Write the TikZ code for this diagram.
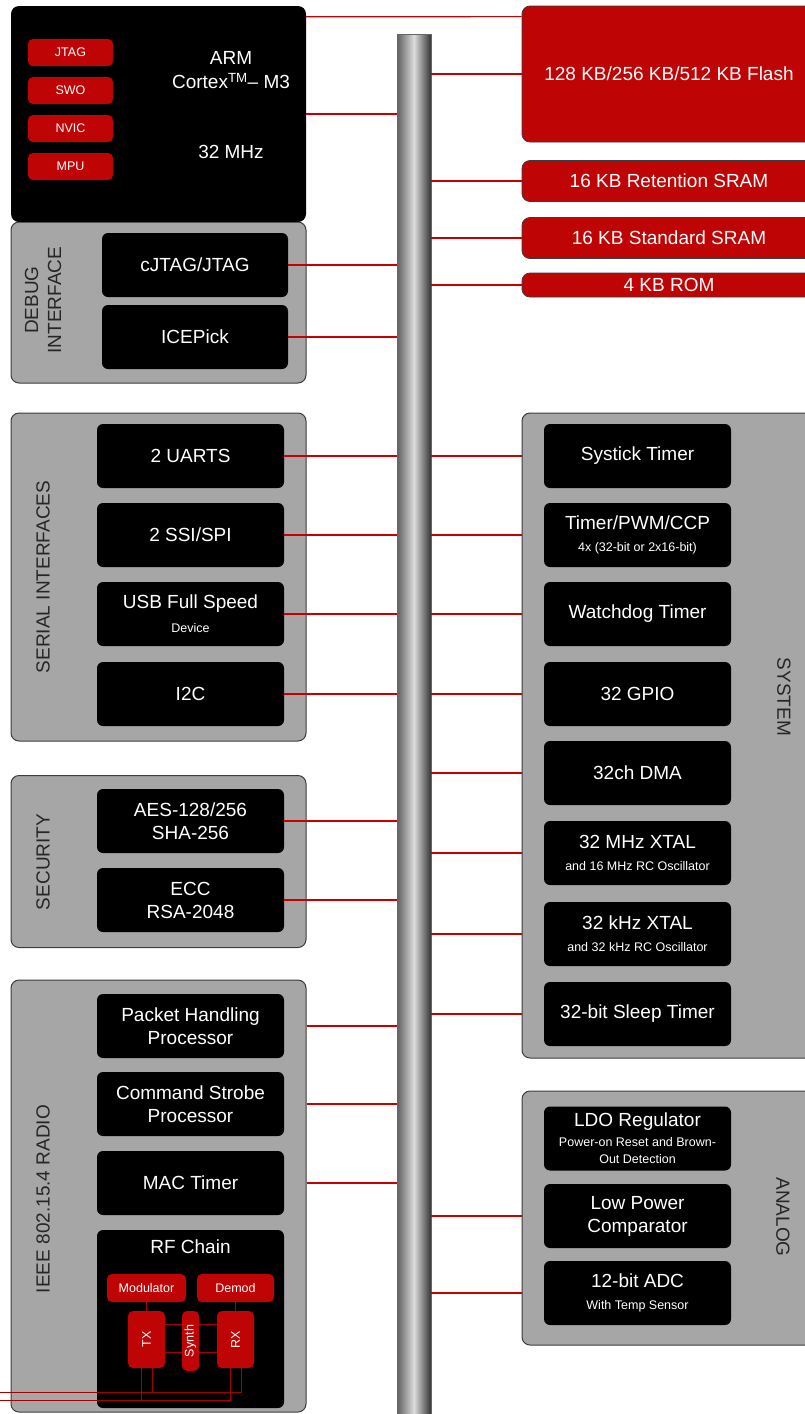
\documentclass[tikz,border=0pt]{standalone}
\usepackage{fontspec}
\setmainfont{Liberation Sans}
\usetikzlibrary{positioning,calc}
\definecolor{tired}{RGB}{190,4,4}
\definecolor{linkred}{RGB}{200,0,0}
\definecolor{grpgray}{RGB}{166,166,166}
\definecolor{edgegray}{RGB}{60,60,60}
\definecolor{busdark}{RGB}{95,95,95}
\definecolor{buslight}{RGB}{220,220,220}
\newcommand{\bigtxt}{\fontsize{19}{23}\selectfont}
\newcommand{\smtxt}{\fontsize{12.5}{15}\selectfont}
\tikzset{
  grp/.style={
    draw=edgegray,
    line width=1pt,
    fill=grpgray,
    rounded corners=8pt,
    inner sep=0pt
  },
  blk/.style={
    fill=black,
    rounded corners=6pt,
    text=white,
    align=center,
    font=\bigtxt,
    inner sep=0pt,
    minimum width=187pt,
    minimum height=64pt
  },
  redblk/.style={
    fill=tired,
    rounded corners=5pt,
    text=white,
    align=center,
    font=\smtxt,
    inner sep=0pt
  },
  mem/.style={
    fill=tired,
    draw=edgegray,
    line width=0.8pt,
    rounded corners=8pt,
    text=white,
    font=\bigtxt,
    inner sep=0pt,
    minimum width=294pt
  },
  link/.style={draw=linkred, line width=1.2pt},
  rflink/.style={draw=tired!85!black, line width=1pt},
  grplabel/.style={font=\bigtxt, align=center, text=black!85},
}
\begin{document}
\begin{tikzpicture}[x=1pt,y=-1pt]
  \useasboundingbox (0,0) rectangle (805,1414);
  \clip (0,0) rectangle (805,1414);
  % group frames
  \node[grp, minimum width=295pt, minimum height=161pt] (dbg) at (158.5,302.5) {};
  \node[grp, minimum width=295pt, minimum height=328pt] (ser) at (158.5,577) {};
  \node[grp, minimum width=295pt, minimum height=172pt] (sec) at (158.5,861.5) {};
  \node[grp, minimum width=295pt, minimum height=432pt] (rad) at (158.5,1196) {};
  \node[grp, minimum width=310pt, minimum height=645pt] (sys) at (677,735.5) {};
  \node[grp, minimum width=310pt, minimum height=254pt] (ana) at (677,1218) {};
  % core
  \node[fill=black, rounded corners=8pt, inner sep=0pt,
        minimum width=295pt, minimum height=216pt] (arm) at (158.5,114) {};
  \foreach \n [count=\i from 0] in {JTAG,SWO,NVIC,MPU}{
    \node[redblk, minimum width=85pt, minimum height=27pt] (c\n) at (70.5,52.5+38*\i) {\n};
  }
  \node[text=white, align=center, font=\fontsize{19}{24}\selectfont] (armtxt) at (231,70)
    {ARM\\Cortex\textsuperscript{TM}– M3};
  \node[text=white, font=\bigtxt] (armclk) at (231,152) {32 MHz};
  % debug
  \node[blk, minimum width=186pt] (cjtag) at (195,265) {cJTAG/JTAG};
  \node[blk, minimum width=186pt] (icep) at (195,337) {ICEPick};
  \node[grplabel, rotate=90] at (43,300) {DEBUG\\INTERFACE};
  % serial
  \node[blk] (uart) at (190.5,456) {2 UARTS};
  \node[blk] (ssi) at (190.5,535) {2 SSI/SPI};
  \node[blk] (usb) at (190.5,614) {USB Full Speed\\[1pt]{\smtxt Device}};
  \node[blk] (iic) at (190.5,694) {I2C};
  \node[grplabel, rotate=90] at (43,577) {SERIAL INTERFACES};
  % security
  \node[blk] (aes) at (190.5,821) {AES-128/256\\SHA-256};
  \node[blk] (ecc) at (190.5,900) {ECC\\RSA-2048};
  \node[grplabel, rotate=90] at (43,862) {SECURITY};
  % radio
  \node[blk] (phb) at (190.5,1026) {Packet Handling\\Processor};
  \node[blk] (csp) at (190.5,1104) {Command Strobe\\Processor};
  \node[blk] (mact) at (190.5,1183) {MAC Timer};
  \node[blk, minimum height=178pt] (rf) at (190.5,1319) {};
  \node[text=white, font=\bigtxt] (rftitle) at (190.5,1247) {RF Chain};
  \node[grplabel, rotate=90] at (43,1199) {IEEE 802.15.4 RADIO};
  % rf chain
  \node[redblk, minimum width=79pt, minimum height=28pt] (mod) at (146.5,1288) {Modulator};
  \node[redblk, minimum width=77pt, minimum height=28pt] (demod) at (235.5,1288) {Demod};
  \node[redblk, minimum width=57pt, minimum height=37pt, rotate=90] (tx) at (146.5,1339.5) {TX};
  \node[redblk, minimum width=60pt, minimum height=17pt, rotate=90] (synth) at (190.5,1341) {Synth};
  \node[redblk, minimum width=57pt, minimum height=37pt, rotate=90] (rx) at (235.5,1339.5) {RX};
  \coordinate (rfa) at (0,1392);
  \coordinate (rfb) at (0,1400);
  \draw[rflink] (mod.south) -- (mod.south |- tx.east);
  \draw[rflink] (demod.south) -- (demod.south |- rx.east);
  \foreach \d in {15,-13}{
    \draw[rflink] ([yshift=\d]tx.south) -- ([yshift=\d]tx.south -| synth.north);
    \draw[rflink] ([yshift=\d]tx.south -| synth.south) -- ([yshift=\d]tx.south -| rx.north);
  }
  \draw[rflink] ([xshift=5.5]rx.west) |- (rfa);
  \draw[rflink] ([xshift=5.5]tx.west) -- ([xshift=5.5]tx.west |- rfa);
  \draw[rflink] ([xshift=-5.5]rx.west) |- (rfb);
  \draw[rflink] ([xshift=-5.5]tx.west) -- ([xshift=-5.5]tx.west |- rfb);
  % memories
  \node[mem, minimum height=136pt] (flash) at (669,74) {128 KB/256 KB/512 KB Flash};
  \node[mem, minimum height=41pt] (rsram) at (669,181) {16 KB Retention SRAM};
  \node[mem, minimum height=41pt] (ssram) at (669,238) {16 KB Standard SRAM};
  \node[mem, minimum height=24pt] (rom) at (669,285) {4 KB ROM};
  % system
  \node[blk] (systick) at (637.5,456) {Systick Timer};
  \node[blk] (timer) at (637.5,535) {Timer/PWM/CCP\\[-1pt]{\smtxt 4x (32-bit or 2x16-bit)}};
  \node[blk] (wdog) at (637.5,614) {Watchdog Timer};
  \node[blk] (gpio) at (637.5,694) {32 GPIO};
  \node[blk] (dma) at (637.5,773) {32ch DMA};
  \node[blk] (mxtal) at (637.5,853) {32 MHz XTAL\\[-1pt]{\smtxt and 16 MHz RC Oscillator}};
  \node[blk] (kxtal) at (637.5,934) {32 kHz XTAL\\[-1pt]{\smtxt and 32 kHz RC Oscillator}};
  \node[blk] (sleep) at (637.5,1014) {32-bit Sleep Timer};
  \node[grplabel, rotate=-90] at (784,697) {SYSTEM};
  % analog
  \node[blk] (ldo) at (637.5,1138.5) {LDO Regulator\\[-3pt]{\smtxt Power-on Reset and Brown-}\\[-6pt]{\smtxt Out Detection}};
  \node[blk] (lowpow) at (637.5,1216) {Low Power\\Comparator};
  \node[blk] (adc) at (637.5,1293) {12-bit ADC\\[-1pt]{\smtxt With Temp Sensor}};
  \node[grplabel, rotate=-90] at (783,1217) {ANALOG};
  % bus
  \node[draw=black!60, line width=0.8pt, left color=busdark, right color=black!80, middle color=buslight,
        minimum width=34pt, minimum height=1400pt, inner sep=0pt] (bus) at (414,734) {};
  % connections
  \draw[link] ([yshift=-11]arm.north east) -- ([yshift=-11]flash.north west);
  \draw[link] (arm.east) -- (arm.east -| bus.west);
  \foreach \s in {cjtag,icep,uart,ssi,usb,iic,aes,ecc}{
    \draw[link] (\s.east) -- (\s.east -| bus.west);
  }
  \foreach \s in {phb,csp,mact}{
    \draw[link] (rad.east |- \s) -- (bus.west |- \s);
  }
  \foreach \s in {flash,rsram,ssram,rom}{
    \draw[link] (bus.east |- \s) -- (\s.west);
  }
  \foreach \s in {systick,timer,wdog,gpio,dma,mxtal,kxtal,sleep}{
    \draw[link] (bus.east |- \s) -- (sys.west |- \s);
  }
  \foreach \s in {lowpow,adc}{
    \draw[link] (bus.east |- \s) -- (ana.west |- \s);
  }
\end{tikzpicture}
\end{document}
